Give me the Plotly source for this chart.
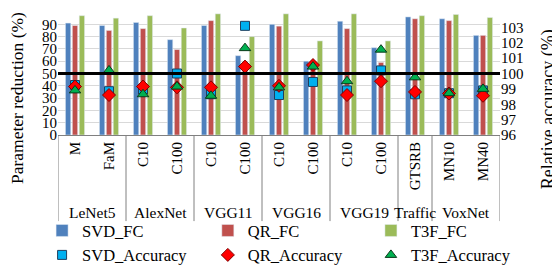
import plotly.graph_objects as go

categories = ["M", "FaM", "C10", "C100", "C10", "C100", "C10", "C100", "C10", "C100", "GTSRB", "MN10", "MN40"]
groups = ["LeNet5", "AlexNet", "VGG11", "VGG16", "VGG19", "Traffic", "VoxNet"]
group_sizes = [2, 2, 2, 2, 2, 1, 2]

svd_fc = [91, 89, 91.5, 77.5, 89, 64.5, 90, 60, 92.5, 71, 96, 94.5, 81]
qr_fc = [89, 85, 86.5, 69.5, 93, 55, 88.5, 58.5, 86.5, 59, 94.5, 93, 81]
t3f_fc = [97, 95, 97, 87, 98.5, 80, 98.5, 76.5, 98.5, 76.5, 97, 98, 95.5]

svd_acc = [99.25, 98.85, 98.95, 100.0, 98.65, 103.1, 98.6, 99.45, 98.9, 100.2, 98.65, 98.72, 98.9]
qr_acc = [99.15, 98.6, 99.15, 99.1, 99.1, 100.45, 99.2, 100.55, 98.6, 99.5, 98.8, 98.7, 98.55]
t3f_acc = [98.9, 100.2, 98.65, 99.15, 98.55, 101.65, 99.1, 100.45, 99.5, 101.55, 99.75, 98.72, 99.0]

left_ticks = list(range(0, 101, 10))
right_ticks = list(range(96, 105, 1))
baseline_acc = 100

FONT = "Liberation Serif"
xs = list(range(len(categories)))

fig = go.Figure()
fig.add_trace(go.Bar(x=xs, y=svd_fc, name="SVD_FC", marker_color="#4F81BD", legend="legend"))
fig.add_trace(go.Bar(x=xs, y=qr_fc, name="QR_FC", marker_color="#C0504D", legend="legend2"))
fig.add_trace(go.Bar(x=xs, y=t3f_fc, name="T3F_FC", marker_color="#9BBB59", legend="legend3"))

fig.add_trace(go.Scatter(x=xs, y=svd_acc, name="SVD_Accuracy", mode="markers", yaxis="y2", legend="legend",
                         marker=dict(symbol="square", size=9, color="#00B0F0",
                                     line=dict(color="#1F3F5F", width=1))))
fig.add_trace(go.Scatter(x=xs, y=qr_acc, name="QR_Accuracy", mode="markers", yaxis="y2", legend="legend2",
                         marker=dict(symbol="diamond", size=10, color="#FF0000",
                                     line=dict(color="#7F0000", width=1))))
fig.add_trace(go.Scatter(x=xs, y=t3f_acc, name="T3F_Accuracy", mode="markers", yaxis="y2", legend="legend3",
                         marker=dict(symbol="triangle-up", size=10, color="#00B050",
                                     line=dict(color="#0A3A1A", width=1))))

# baseline at 100% relative accuracy
fig.add_shape(type="line", xref="paper", yref="y2", x0=0, x1=1, y0=baseline_acc, y1=baseline_acc,
              line=dict(color="black", width=3), layer="above")

# group dividers and labels
bounds = [-0.5]
for s in group_sizes:
    bounds.append(bounds[-1] + s)
for b in bounds:
    fig.add_shape(type="line", xref="x", yref="paper", x0=b, x1=b, y0=0, y1=-0.70,
                  line=dict(color="#808080", width=1))
for i, g in enumerate(groups):
    fig.add_annotation(x=(bounds[i] + bounds[i + 1]) / 2, y=-0.628, xref="x", yref="paper",
                       text=g, showarrow=False, font=dict(size=15.5, color="black", family=FONT),
                       yanchor="middle")

# axis titles
fig.add_annotation(x=-0.094, y=0.304, xref="paper", yref="paper", xanchor="center", yanchor="middle",
                   text="Parameter reduction (%)", textangle=-90, showarrow=False,
                   font=dict(size=17.5, family=FONT, color="black"))
fig.add_annotation(x=1.1086, y=0.21, xref="paper", yref="paper", xanchor="center", yanchor="middle",
                   text="Relative accuracy (%)", textangle=-90, showarrow=False,
                   font=dict(size=18, family=FONT, color="black"))

leg = dict(orientation="v", yanchor="top", y=-0.636, xanchor="left", font=dict(size=16.5, family=FONT, color="black"),
           tracegroupgap=0, itemwidth=30, bgcolor="rgba(0,0,0,0)", borderwidth=0)

# the page body adds an 8px margin, so the figure is 8px smaller and its margins shifted by 8px
fig.update_layout(
    width=552, height=257,
    margin=dict(l=50, r=60, t=4, b=129.5, autoexpand=False),
    paper_bgcolor="white", plot_bgcolor="white",
    font=dict(family=FONT, size=15, color="black"),
    barmode="group", bargap=0.39, bargroupgap=0.23,
    showlegend=True,
    legend=dict(leg, x=-0.036),
    legend2=dict(leg, x=0.339),
    legend3=dict(leg, x=0.708),
    xaxis=dict(range=[-0.5, 12.5], tickmode="array", tickvals=xs, ticktext=categories,
               tickangle=-90, showgrid=False, zeroline=False, showline=True,
               linecolor="#808080", ticks="", tickfont=dict(size=15, family=FONT)),
    yaxis=dict(range=[0, 100], tickvals=left_ticks, showgrid=True, gridcolor="#D9D9D9",
               zeroline=False, showline=False, ticks="", tickfont=dict(size=15, family=FONT)),
    yaxis2=dict(range=[96, 104], tickvals=right_ticks, overlaying="y", side="right",
                showgrid=False, zeroline=False, showline=False, ticks="",
                tickfont=dict(size=15, family=FONT)),
)

fig.write_html("out.html")
